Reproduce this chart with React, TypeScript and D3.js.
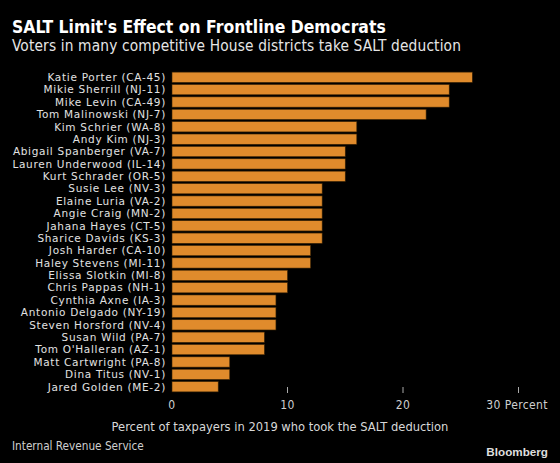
import React from "react";
import * as d3 from "d3";

const names = [
  "Katie Porter (CA-45)",
  "Mikie Sherrill (NJ-11)",
  "Mike Levin (CA-49)",
  "Tom Malinowski (NJ-7)",
  "Kim Schrier (WA-8)",
  "Andy Kim (NJ-3)",
  "Abigail Spanberger (VA-7)",
  "Lauren Underwood (IL-14)",
  "Kurt Schrader (OR-5)",
  "Susie Lee (NV-3)",
  "Elaine Luria (VA-2)",
  "Angie Craig (MN-2)",
  "Jahana Hayes (CT-5)",
  "Sharice Davids (KS-3)",
  "Josh Harder (CA-10)",
  "Haley Stevens (MI-11)",
  "Elissa Slotkin (MI-8)",
  "Chris Pappas (NH-1)",
  "Cynthia Axne (IA-3)",
  "Antonio Delgado (NY-19)",
  "Steven Horsford (NV-4)",
  "Susan Wild (PA-7)",
  "Tom O'Halleran (AZ-1)",
  "Matt Cartwright (PA-8)",
  "Dina Titus (NV-1)",
  "Jared Golden (ME-2)",
];
const values = [26, 24, 24, 22, 16, 16, 15, 15, 15, 13, 13, 13, 13, 13, 12, 12, 10, 10, 9, 9, 9, 8, 8, 5, 5, 4];
const tickValues = [0, 10, 20, 30];
const tickLabels = ["0", "10", "20", "30 Percent"];

const title = "SALT Limit's Effect on Frontline Democrats";
const subtitle = "Voters in many competitive House districts take SALT deduction";
const axisTitle = "Percent of taxpayers in 2019 who took the SALT deduction";
const source = "Internal Revenue Service";

const W = 560;
const H = 463;
const COND = "'DejaVu Sans Condensed', 'DejaVu Sans', sans-serif";
const REG = "'DejaVu Sans', sans-serif";

export default function App() {
  const x = d3.scaleLinear().domain([0, 30]).range([172, 518.5]);
  const y = d3.scaleBand<string>().domain(names).range([71.5, 392.5]).paddingInner(0.17).paddingOuter(0.05);

  return (
    <svg
      width={W}
      height={H}
      style={{ position: "fixed", left: 0, top: 0, background: "#000" }}
      fontFamily={COND}
    >
      <rect x={0} y={0} width={W} height={H} fill="#000" />
      <text x={12} y={33} fill="#fff" fontSize={17.4} fontWeight="bold">
        {title}
      </text>
      <text x={12} y={51} fill="#e6e6e6" fontSize={15.3} letterSpacing={0.15}>
        {subtitle}
      </text>

      {names.map((n, i) => (
        <g key={n}>
          <rect
            x={x(0)}
            y={y(n)!}
            width={x(values[i]) - x(0)}
            height={y.bandwidth()}
            fill="#e08b2c"
            stroke="#3b2405"
            strokeWidth={0.6}
          />
          <text
            x={166}
            y={y(n)! + y.bandwidth() / 2}
            dy="0.36em"
            textAnchor="end"
            fill="#e2e2e2"
            fontSize={10.5}
            fontFamily={REG}
            letterSpacing={0.7}
          >
            {n}
          </text>
        </g>
      ))}

      {tickValues.map((t, i) => {
        const last = i === tickValues.length - 1;
        return (
          <g key={t}>
            {t !== 0 && (
              <line x1={x(t)} x2={x(t)} y1={387} y2={393} stroke="#aaa" strokeWidth={1} />
            )}
            <text
              x={last ? 548 : x(t)}
              y={409}
              textAnchor={last ? "end" : "middle"}
              fill="#cfcfcf"
              fontSize={12}
              letterSpacing={0.4}
            >
              {tickLabels[i]}
            </text>
          </g>
        );
      })}

      <text x={280} y={431} textAnchor="middle" fill="#d8d8d8" fontSize={12.8}>
        {axisTitle}
      </text>
      <text x={12} y={450} fill="#cfcfcf" fontSize={11.7}>
        {source}
      </text>
      <text
        x={548}
        y={456}
        textAnchor="end"
        fill="#dedede"
        fontSize={11.7}
        fontWeight="bold"
        fontFamily="'Liberation Sans', Arial, sans-serif"
      >
        Bloomberg
      </text>
    </svg>
  );
}
